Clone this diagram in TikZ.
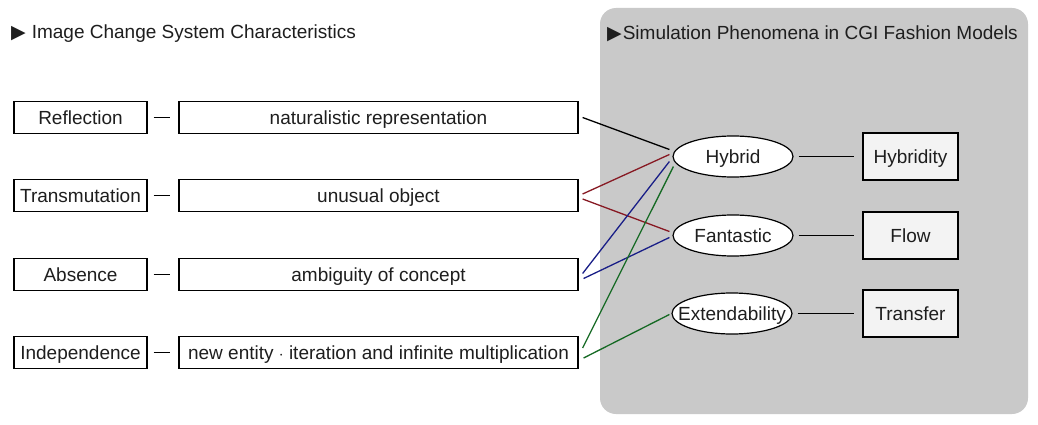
\documentclass[tikz,border=0pt]{standalone}
\usepackage{fontspec}
\usetikzlibrary{shapes.geometric}
\setmainfont{Liberation Sans}
\newfontfamily\symfont{DejaVu Sans}
\definecolor{panel}{HTML}{C9C9C9}
\definecolor{lbox}{HTML}{F3F3F3}
\definecolor{txt}{HTML}{1E1E1E}
\definecolor{cred}{RGB}{135,25,35}
\definecolor{cblue}{RGB}{25,30,135}
\definecolor{cgreen}{RGB}{20,105,35}
\begin{document}
\begin{tikzpicture}[x=1pt,y=-1pt,
  every node/.style={font=\fontsize{19}{21}\selectfont, text=txt, inner sep=0pt},
  box/.style={draw=black, line width=1.2pt, fill=white, minimum height=32pt, text depth=0pt},
  rbox/.style={draw=black, line width=1.2pt, fill=lbox, minimum width=95pt, minimum height=47pt, text depth=0pt},
  ell/.style={draw=black, line width=1.2pt, fill=white, ellipse, minimum width=120pt, minimum height=41pt, text depth=0pt},
  link/.style={line width=1.3pt},
  title/.style={anchor=west}
]
\useasboundingbox (0,0) rectangle (1038,425);
\fill[white] (0,0) rectangle (1038,425);
\fill[panel, rounded corners=16pt] (600,8) rectangle (1028,414);

\node[title] (t1) at (11,34) {{\symfont\fontsize{19}{21}\selectfont ▶}\hspace{6pt}Image Change System Characteristics};
\node[title] (t2) at (607,34) {{\symfont\fontsize{19}{21}\selectfont ▶}\hspace{1pt}Simulation Phenomena in CGI Fashion Models};

% left boxes
\node[box, minimum width=133pt] (l1) at (80.5,117.5) {Reflection};
\node[box, minimum width=133pt] (l2) at (80.5,195.5) {Transmutation};
\node[box, minimum width=133pt] (l3) at (80.5,274.5) {Absence};
\node[box, minimum width=133pt] (l4) at (80.5,352.5) {Independence};

% middle boxes
\node[box, minimum width=399pt] (m1) at (378.5,117.5) {naturalistic representation};
\node[box, minimum width=399pt] (m2) at (378.5,195.5) {unusual object};
\node[box, minimum width=399pt] (m3) at (378.5,274.5) {ambiguity of concept};
\node[box, minimum width=399pt] (m4) at (378.5,352.5) {new entity $\cdot$ iteration and infinite multiplication};

\foreach \i in {1,2,3,4}{
  \draw[link] ([xshift=6pt]l\i.east) -- ([xshift=-8pt]m\i.west);
}

% ellipses
\node[ell] (h) at (733,156.5) {Hybrid};
\node[ell] (f) at (733,235.5) {Fantastic};
\node[ell, inner xsep=-14pt] (e) at (732,313.5) {Extendability};

% right boxes
\node[rbox] (r1) at (910.5,156.5) {Hybridity};
\node[rbox] (r2) at (910.5,235.5) {Flow};
\node[rbox] (r3) at (910.5,313.5) {Transfer};

\draw[link] ([xshift=5pt]h.east) -- ([xshift=-8pt]r1.west);
\draw[link] ([xshift=5pt]f.east) -- ([xshift=-8pt]r2.west);
\draw[link] ([xshift=5pt]e.east) -- ([xshift=-8pt]r3.west);

% connectors
\draw[link, black] ([xshift=4pt]m1.east) -- ([xshift=-3pt,yshift=7pt]h.west);
\draw[link, cred] ([xshift=4pt,yshift=1.5pt]m2.east) -- ([xshift=-3pt,yshift=2pt]h.west);
\draw[link, cred] ([xshift=4pt,yshift=-3.5pt]m2.east) -- ([xshift=-3pt,yshift=4pt]f.west);
\draw[link, cblue] ([xshift=4pt,yshift=1pt]m3.east) -- ([xshift=-3pt,yshift=-5pt]h.west);
\draw[link, cblue] ([xshift=5pt,yshift=-4pt]m3.east) -- ([xshift=-3pt,yshift=-2pt]f.west);
\draw[link, cgreen] ([xshift=4pt,yshift=4.5pt]m4.east) -- ([xshift=1pt,yshift=-10pt]h.west);
\draw[link, cgreen] ([xshift=5pt,yshift=-5.5pt]m4.east) -- ([xshift=-2pt,yshift=-1pt]e.west);
\end{tikzpicture}
\end{document}
